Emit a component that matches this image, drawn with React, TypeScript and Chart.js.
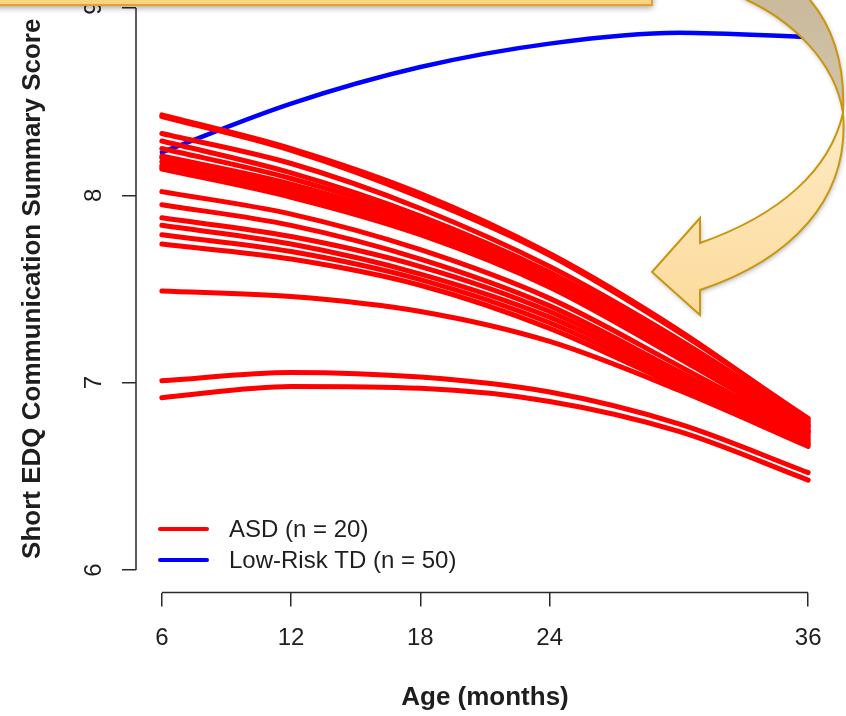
import React, { useEffect, useRef } from "react";
import { Chart, registerables } from "chart.js";

Chart.register(...registerables);

// ---- data ----
const ages = [6, 12, 18, 24, 30, 36];

const asdCurves: number[][] = [
  [8.43, 8.25, 8.01, 7.69, 7.28, 6.8],
  [8.42, 8.24, 7.99, 7.68, 7.27, 6.81],
  [8.33, 8.17, 7.93, 7.62, 7.23, 6.79],
  [8.29, 8.12, 7.89, 7.59, 7.21, 6.78],
  [8.25, 8.09, 7.87, 7.57, 7.19, 6.77],
  [8.21, 8.06, 7.85, 7.56, 7.18, 6.77],
  [8.2, 8.05, 7.84, 7.55, 7.17, 6.76],
  [8.18, 8.03, 7.82, 7.54, 7.16, 6.75],
  [8.16, 8.01, 7.81, 7.53, 7.15, 6.74],
  [8.15, 8.0, 7.8, 7.52, 7.14, 6.74],
  [8.14, 7.99, 7.79, 7.51, 7.13, 6.73],
  [8.02, 7.9, 7.71, 7.45, 7.09, 6.72],
  [7.95, 7.84, 7.66, 7.41, 7.06, 6.71],
  [7.88, 7.78, 7.62, 7.38, 7.04, 6.7],
  [7.84, 7.74, 7.58, 7.35, 7.02, 6.69],
  [7.79, 7.7, 7.55, 7.32, 7.0, 6.68],
  [7.74, 7.66, 7.52, 7.29, 6.98, 6.67],
  [7.49, 7.46, 7.38, 7.22, 6.96, 6.66],
  [7.01, 7.055, 7.03, 6.95, 6.78, 6.52],
  [6.92, 6.98, 6.97, 6.9, 6.74, 6.48],
];

const tdCurve = [8.23, 8.49, 8.685, 8.81, 8.868, 8.845];

const xTicks = [6, 12, 18, 24, 36];
const yTicks = [6, 7, 8, 9];
const legendLabels = ["ASD (n = 20)", "Low-Risk TD (n = 50)"];
const seriesColors = ["#ff0000", "#0000ff"];
const xTitle = "Age (months)";
const yTitle = "Short EDQ Communication Summary Score";

// ---- layout constants ----
const W = 846;
const H = 731;
const OY = 15; // canvas y = page y + OY
const FONT = "'Liberation Sans', Arial, Helvetica, sans-serif";
const AXIS_COLOR = "#2a2a2a";
const TEXT_COLOR = "#1e1e1e";

const py = (y: number) => y + OY;

const decorPlugin = {
  id: "decor",
  afterDatasetsDraw(chart: any) {
    const { ctx, chartArea, scales } = chart;
    const xs = scales.x;
    const ys = scales.y;
    ctx.save();
    // R-style axis lines spanning first to last tick
    ctx.strokeStyle = AXIS_COLOR;
    ctx.lineWidth = 1.5;
    ctx.beginPath();
    ctx.moveTo(xs.getPixelForValue(xTicks[0]), chartArea.bottom);
    ctx.lineTo(xs.getPixelForValue(xTicks[xTicks.length - 1]), chartArea.bottom);
    ctx.moveTo(chartArea.left, ys.getPixelForValue(yTicks[0]));
    ctx.lineTo(chartArea.left, ys.getPixelForValue(yTicks[yTicks.length - 1]));
    ctx.stroke();

    // legend
    const lx0 = 160;
    const lx1 = 207;
    const rows = [py(529), py(560)];
    ctx.font = `24px ${FONT}`;
    ctx.textBaseline = "middle";
    ctx.textAlign = "left";
    legendLabels.forEach((lab, i) => {
      ctx.strokeStyle = seriesColors[i];
      ctx.lineWidth = 4;
      ctx.lineCap = "round";
      ctx.beginPath();
      ctx.moveTo(lx0, rows[i]);
      ctx.lineTo(lx1, rows[i]);
      ctx.stroke();
      ctx.fillStyle = TEXT_COLOR;
      ctx.fillText(lab, 229, rows[i] + 1);
    });
    ctx.restore();
  },
  afterDraw(chart: any) {
    const { ctx } = chart;
    ctx.save();
    // curved arrow (twisted ribbon)
    ctx.shadowColor = "rgba(0,0,0,0.30)";
    ctx.shadowBlur = 5;
    ctx.shadowOffsetX = 1;
    ctx.shadowOffsetY = 2;
    ctx.lineJoin = "miter";
    // tan back side
    const gTan = ctx.createLinearGradient(0, py(-15), 0, py(113));
    gTan.addColorStop(0, "#c9b89b");
    gTan.addColorStop(1, "#d3c4a9");
    ctx.beginPath();
    ctx.moveTo(725, py(-15));
    ctx.lineTo(747, py(0));
    ctx.bezierCurveTo(790, py(20), 835, py(60), 843, py(113));
    ctx.bezierCurveTo(845, py(70), 835, py(30), 810, py(0));
    ctx.lineTo(795, py(-15));
    ctx.closePath();
    ctx.fillStyle = gTan;
    ctx.fill();
    ctx.shadowColor = "transparent";
    ctx.strokeStyle = "#c9970f";
    ctx.lineWidth = 2;
    ctx.stroke();
    // orange front side with arrowhead
    ctx.shadowColor = "rgba(0,0,0,0.30)";
    const gOr = ctx.createLinearGradient(0, py(113), 0, py(315));
    gOr.addColorStop(0, "#feeac4");
    gOr.addColorStop(1, "#fcdb9c");
    ctx.beginPath();
    ctx.moveTo(843, py(113));
    ctx.bezierCurveTo(850, py(200), 790, py(260), 700, py(290));
    ctx.lineTo(700, py(315));
    ctx.lineTo(652, py(272));
    ctx.lineTo(700, py(218));
    ctx.lineTo(700, py(243));
    ctx.bezierCurveTo(780, py(215), 830, py(170), 843, py(113));
    ctx.closePath();
    ctx.fillStyle = gOr;
    ctx.fill();
    ctx.shadowColor = "transparent";
    ctx.strokeStyle = "#c9970f";
    ctx.lineWidth = 2;
    ctx.stroke();

    // top callout box (cut off)
    ctx.shadowColor = "rgba(0,0,0,0.35)";
    ctx.shadowBlur = 6;
    ctx.shadowOffsetX = 1;
    ctx.shadowOffsetY = 3;
    const gBox = ctx.createLinearGradient(0, py(-30), 0, py(5));
    gBox.addColorStop(0, "#fde3a6");
    gBox.addColorStop(1, "#f9d27e");
    ctx.fillStyle = gBox;
    ctx.fillRect(-10, py(-30), 662, 35);
    ctx.shadowColor = "transparent";
    ctx.strokeStyle = "#e2a233";
    ctx.lineWidth = 2;
    ctx.strokeRect(-10, py(-30), 662, 35);
    ctx.restore();
  },
};

export default function App() {
  const ref = useRef<HTMLCanvasElement | null>(null);

  useEffect(() => {
    if (!ref.current) return;
    const datasets: any[] = asdCurves.map((c, i) => ({
      label: `ASD ${i + 1}`,
      data: ages.map((a, j) => ({ x: a, y: c[j] })),
      borderColor: seriesColors[0],
      borderWidth: 5,
      borderCapStyle: "round",
      pointRadius: 0,
      fill: false,
      cubicInterpolationMode: "monotone",
    }));
    datasets.push({
      label: "Low-Risk TD",
      data: ages.map((a, j) => ({ x: a, y: tdCurve[j] })),
      borderColor: seriesColors[1],
      borderWidth: 4.5,
      borderCapStyle: "round",
      pointRadius: 0,
      fill: false,
      cubicInterpolationMode: "monotone",
    });

    const chart = new Chart(ref.current, {
      type: "line",
      data: { datasets },
      options: {
        animation: false,
        responsive: false,
        maintainAspectRatio: false,
        layout: { padding: { left: 0, right: 12, top: 0, bottom: 0 } },
        plugins: { legend: { display: false }, tooltip: { enabled: false } },
        scales: {
          x: {
            type: "linear",
            min: 4.8,
            max: 37.2,
            afterBuildTicks: (s: any) => {
              s.ticks = xTicks.map((v) => ({ value: v }));
            },
            afterFit: (s: any) => {
              s.height = 123.5;
              s.paddingLeft = 0;
              s.paddingRight = 0;
            },
            ticks: {
              autoSkip: false,
              maxRotation: 0,
              padding: 17,
              color: TEXT_COLOR,
              font: { family: FONT, size: 24 },
              callback: (v: any) => String(v),
            },
            grid: {
              drawOnChartArea: false,
              drawTicks: true,
              tickLength: 14,
              color: AXIS_COLOR,
              lineWidth: 1.5,
            },
            border: { display: false },
            title: {
              display: true,
              text: xTitle,
              color: TEXT_COLOR,
              font: { family: FONT, size: 26, weight: "bold" },
              padding: { top: 0, bottom: 3 },
            },
          },
          y: {
            type: "linear",
            min: 5.88,
            max: 9.123,
            afterBuildTicks: (s: any) => {
              s.ticks = yTicks.map((v) => ({ value: v }));
            },
            afterFit: (s: any) => {
              s.width = 136;
              s.paddingTop = 0;
              s.paddingBottom = 0;
            },
            ticks: {
              autoSkip: false,
              minRotation: 90,
              maxRotation: 90,
              crossAlign: "center",
              padding: 21,
              color: TEXT_COLOR,
              font: { family: FONT, size: 24 },
              callback: (v: any) => String(v),
            },
            grid: {
              drawOnChartArea: false,
              drawTicks: true,
              tickLength: 14,
              color: AXIS_COLOR,
              lineWidth: 1.5,
            },
            border: { display: false },
            title: {
              display: true,
              text: yTitle,
              color: TEXT_COLOR,
              font: { family: FONT, size: 26, weight: "bold" },
              padding: { top: 17, bottom: 0 },
            },
          },
        },
      },
      plugins: [decorPlugin],
    } as any);
    return () => chart.destroy();
  }, []);

  return (
    <div style={{ position: "absolute", left: 0, top: -OY, width: W, height: H, background: "#fff" }}>
      <canvas ref={ref} width={W} height={H} style={{ width: W, height: H, display: "block" }} />
    </div>
  );
}
